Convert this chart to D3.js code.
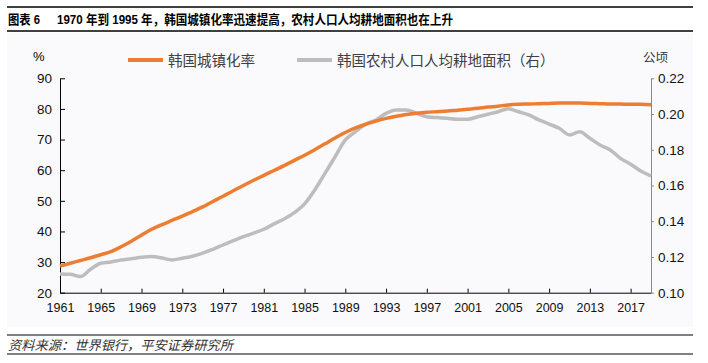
<!DOCTYPE html>
<html>
<head>
<meta charset="utf-8">
<script src="https://cdn.jsdelivr.net/npm/d3@7"></script>
<style>
  body { margin: 0; background: #fff; }
  svg { display: block; }
  .tick text { font-family: "Liberation Sans", Arial, sans-serif; fill: #111; }
</style>
</head>
<body>
<svg id="chart" width="708" height="363"></svg>
<script>
// Korea: urbanization rate (%) and rural arable land per capita (ha)
const years = d3.range(1961, 2020);

const urbanRate = [
  28.7, 29.6, 30.5, 31.4, 32.4, 33.4, 35.0, 36.8, 38.8, 40.7,
  42.2, 43.6, 45.0, 46.5, 48.0, 49.8, 51.5, 53.3, 55.0, 56.7,
  58.3, 59.9, 61.5, 63.2, 64.9, 66.7, 68.6, 70.5, 72.3, 73.8,
  75.0, 76.0, 76.9, 77.6, 78.2, 78.6, 78.9, 79.1, 79.3, 79.6,
  79.9, 80.2, 80.6, 80.9, 81.3, 81.5, 81.6, 81.7, 81.8, 81.9,
  81.9, 81.9, 81.8, 81.7, 81.6, 81.6, 81.5, 81.5, 81.4
];

const landPerCapita = [
  0.1105, 0.1103, 0.1090, 0.1131, 0.1165, 0.1172, 0.1183, 0.1190, 0.1198, 0.1202,
  0.1194, 0.1183, 0.1193, 0.1204, 0.1221, 0.1243, 0.1267, 0.1291, 0.1314, 0.1333,
  0.1355, 0.1385, 0.1413, 0.1448, 0.1497, 0.1575, 0.1668, 0.1761, 0.1855, 0.1901,
  0.1944, 0.1967, 0.2004, 0.2023, 0.2023, 0.2004, 0.1985, 0.1980, 0.1976, 0.1971,
  0.1971, 0.1985, 0.1999, 0.2013, 0.2030, 0.2013, 0.1995, 0.1967, 0.1944, 0.1920,
  0.1883, 0.1901, 0.1864, 0.1827, 0.1799, 0.1752, 0.1719, 0.1681, 0.1653
];

const xTickYears = d3.range(1961, 2018, 4);
const leftTicks = [20, 30, 40, 50, 60, 70, 80, 90];
const rightTicks = [0.10, 0.12, 0.14, 0.16, 0.18, 0.20, 0.22];

const titleText = "1970 年到 1995 年，韩国城镇化率迅速提高，农村人口人均耕地面积也在上升";
const sourceText = "资料来源：世界银行，平安证券研究所";
const seriesNames = ["韩国城镇化率", "韩国农村人口人均耕地面积（右）"];
const colors = ["#ED7D31", "#BDBDBD"];

const svg = d3.select("#chart");
const cjk = '"Noto Sans CJK SC", "Noto Sans", sans-serif';
const mixed = '"Liberation Sans", "Noto Sans CJK SC", sans-serif';

// light panel behind the chart
svg.append("rect")
    .attr("x", 7).attr("y", 33)
    .attr("width", 686).attr("height", 294)
    .attr("fill", "#fafafc");

// title block
svg.append("line").attr("x1", 7).attr("x2", 693).attr("y1", 7).attr("y2", 7)
    .attr("stroke", "#000").attr("stroke-width", 1.5);
svg.append("line").attr("x1", 7).attr("x2", 693).attr("y1", 31).attr("y2", 31)
    .attr("stroke", "#000").attr("stroke-width", 1.5);
svg.append("text")
    .attr("x", 8).attr("y", 24)
    .attr("font-family", mixed).attr("font-weight", "bold").attr("font-size", 13)
    .attr("textLength", 32).attr("lengthAdjust", "spacingAndGlyphs")
    .text("图表 6");
svg.append("text")
    .attr("x", 57).attr("y", 24)
    .attr("font-family", mixed).attr("font-weight", "bold").attr("font-size", 13)
    .attr("textLength", 396).attr("lengthAdjust", "spacingAndGlyphs")
    .text(titleText);

// footer
svg.append("line").attr("x1", 7).attr("x2", 693).attr("y1", 335).attr("y2", 335)
    .attr("stroke", "#000").attr("stroke-width", 1);
svg.append("line").attr("x1", 7).attr("x2", 693).attr("y1", 354).attr("y2", 354)
    .attr("stroke", "#000").attr("stroke-width", 1);
svg.append("text")
    .attr("x", 8).attr("y", 349.5)
    .attr("font-family", cjk).attr("font-style", "italic").attr("font-size", 13)
    .attr("textLength", 225).attr("lengthAdjust", "spacingAndGlyphs")
    .attr("fill", "#333")
    .text(sourceText);

// scales
const x = d3.scaleLinear().domain([1961, 2019]).range([60, 651]);
const yL = d3.scaleLinear().domain([20, 90]).range([292.7, 78.3]);
const yR = d3.scaleLinear().domain([0.10, 0.22]).range([292.7, 78.3]);

// axes
const xAxis = d3.axisBottom(x).tickValues(xTickYears).tickFormat(d3.format("d"))
    .tickSize(-4).tickSizeOuter(0).tickPadding(10);
const gx = svg.append("g").attr("transform", "translate(0,292.7)").call(xAxis);
gx.selectAll("text").attr("font-size", 12.5);

const leftAxis = d3.axisLeft(yL).tickValues(leftTicks)
    .tickSize(-5).tickSizeOuter(0).tickPadding(8);
const gl = svg.append("g").attr("transform", "translate(60,0)").call(leftAxis);
gl.selectAll("text").attr("font-size", 13.5);

const rightAxis = d3.axisRight(yR).tickValues(rightTicks).tickFormat(d3.format(".2f"))
    .tickSize(3).tickSizeOuter(0).tickPadding(4);
const gr = svg.append("g").attr("transform", "translate(651,0)").call(rightAxis);
gr.selectAll("text").attr("font-size", 13.5);
gr.select(".domain").attr("stroke", "#888");
gr.selectAll(".tick line").attr("stroke", "#888");

// unit labels
svg.append("text").attr("x", 33).attr("y", 61)
    .attr("font-family", '"Liberation Sans", Arial, sans-serif').attr("font-size", 13)
    .text("%");
svg.append("text").attr("x", 643).attr("y", 62)
    .attr("font-family", cjk).attr("font-size", 12.5).attr("fill", "#333")
    .text("公顷");

// lines
const urbanLine = d3.line().x((d, i) => x(years[i])).y(d => yL(d)).curve(d3.curveMonotoneX);
const landLine = d3.line().x((d, i) => x(years[i])).y(d => yR(d)).curve(d3.curveMonotoneX);

svg.append("path").datum(landPerCapita)
    .attr("fill", "none").attr("stroke", colors[1]).attr("stroke-width", 3.5)
    .attr("d", landLine);
svg.append("path").datum(urbanRate)
    .attr("fill", "none").attr("stroke", colors[0]).attr("stroke-width", 3.5)
    .attr("d", urbanLine);

// legend
const legendItems = [
  { name: seriesNames[0], color: colors[0], x: 128 },
  { name: seriesNames[1], color: colors[1], x: 297 }
];
const lg = svg.selectAll(".legend").data(legendItems).enter().append("g")
    .attr("class", "legend")
    .attr("transform", d => `translate(${d.x},60)`);
lg.append("line").attr("x1", 0).attr("x2", 35).attr("y1", 0).attr("y2", 0)
    .attr("stroke", d => d.color).attr("stroke-width", 4);
lg.append("text").attr("x", 40).attr("y", 5.5)
    .attr("font-family", cjk).attr("font-size", 14.5).attr("fill", "#404040")
    .text(d => d.name);
</script>
</body>
</html>
